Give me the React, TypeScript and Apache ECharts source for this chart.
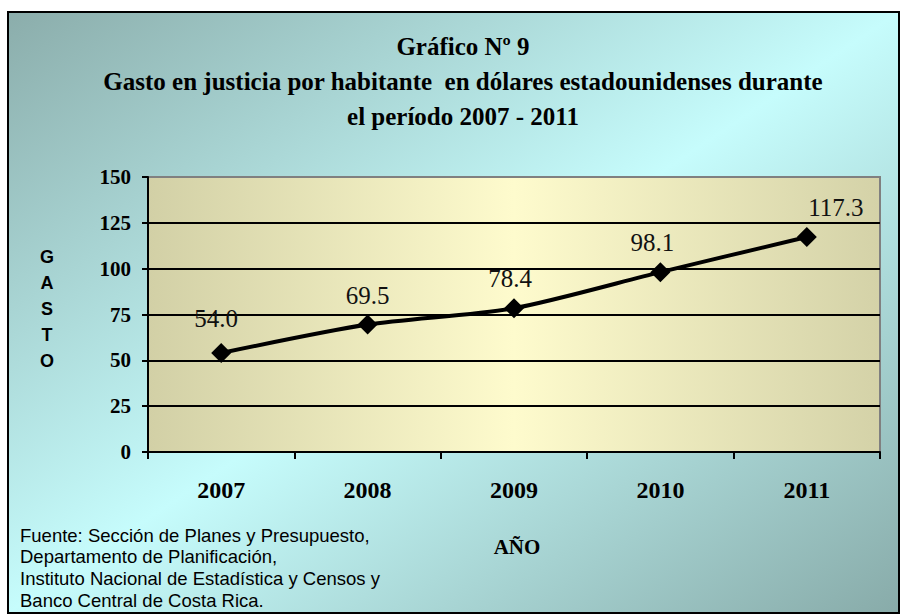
import React, { useEffect, useRef } from "react";
import * as echarts from "echarts";

const categories = ["2007", "2008", "2009", "2010", "2011"];
const gastoValues = [54.0, 69.5, 78.4, 98.1, 117.3];
const labelOffsets = [[-5, -5], [0, 0], [-4, 0], [-8, 0], [29, 0]];
const titleLines = [
  "Gráfico Nº 9",
  "Gasto en justicia por habitante  en dólares estadounidenses durante",
  "el período 2007 - 2011",
];
const sourceLines = [
  "Fuente: Sección de Planes y Presupuesto,",
  "Departamento de Planificación,",
  "Instituto Nacional de Estadística y Censos y",
  "Banco Central de Costa Rica.",
];
const yAxisTitle = ["G", "A", "S", "T", "O"];
const xAxisTitle = "AÑO";

const SERIF = "Liberation Serif";
const SANS = "Liberation Sans";

export default function App() {
  const ref = useRef<HTMLDivElement>(null);
  useEffect(() => {
    if (!ref.current) return;
    const chart = echarts.init(ref.current, undefined, { renderer: "svg" });
    const txt = (x: number, y: number, text: string, family: string, size: number, weight: string, align: string) => ({
      type: "text",
      x,
      y,
      silent: true,
      style: {
        text,
        fontFamily: family,
        fontSize: size,
        fontWeight: weight,
        fill: "#000",
        align,
        verticalAlign: "middle",
      },
    });
    const graphics: any[] = [
      {
        type: "rect",
        z: -10,
        silent: true,
        shape: { x: 8, y: 12, width: 891, height: 601 },
        style: {
          fill: new echarts.graphic.LinearGradient(0, 0, 1, 1, [
            { offset: 0, color: "#8badab" },
            { offset: 0.5, color: "#c6fcfc" },
            { offset: 1, color: "#88aba9" },
          ]),
          stroke: "#000",
          lineWidth: 2,
        },
      },
    ];
    titleLines.forEach((t, i) => graphics.push(txt(463, 46 + i * 35, t, SERIF, 25, "bold", "center")));
    yAxisTitle.forEach((t, i) => graphics.push(txt(47, 257 + i * 26, t, SANS, 18, "bold", "center")));
    graphics.push(txt(517, 547, xAxisTitle, SERIF, 21, "bold", "center"));
    sourceLines.forEach((t, i) => graphics.push(txt(20, 535 + i * 21.7, t, SANS, 18.5, "normal", "left")));

    chart.setOption({
      animation: false,
      graphic: graphics,
      grid: {
        left: 148,
        top: 177,
        right: 20,
        bottom: 162,
        show: true,
        backgroundColor: {
          type: "linear",
          x: 0,
          y: 0,
          x2: 1,
          y2: 0,
          colorStops: [
            { offset: 0, color: "#d2d0a6" },
            { offset: 0.5, color: "#fefbcd" },
            { offset: 1, color: "#d4d2a8" },
          ],
        },
        borderColor: "#808080",
        borderWidth: 2,
      },
      xAxis: {
        type: "category",
        data: categories,
        boundaryGap: true,
        axisLine: { lineStyle: { color: "#000", width: 2 } },
        axisTick: { show: true, length: 7, lineStyle: { color: "#000", width: 2 } },
        axisLabel: {
          color: "#000",
          fontFamily: SERIF,
          fontWeight: "bold",
          fontSize: 24,
          margin: 26,
        },
        splitLine: { show: false },
      },
      yAxis: {
        type: "value",
        min: 0,
        max: 150,
        interval: 25,
        axisLine: { show: true, lineStyle: { color: "#000", width: 2 } },
        axisTick: { show: true, length: 6, lineStyle: { color: "#000", width: 2 } },
        axisLabel: {
          color: "#000",
          fontFamily: SERIF,
          fontWeight: "bold",
          fontSize: 21,
          margin: 17,
        },
        splitLine: {
          show: true,
          lineStyle: {
            color: ["#000", "#000", "#000", "#000", "#000", "#000", "#808080"],
            width: 2,
          },
        },
      },
      series: [
        {
          type: "line",
          data: gastoValues.map((v, i) => ({
            value: v,
            label: { offset: labelOffsets[i] },
          })),
          smooth: 0.25,
          symbol: "diamond",
          symbolSize: 20,
          itemStyle: { color: "#000" },
          lineStyle: { color: "#000", width: 4 },
          label: {
            show: true,
            position: "top",
            distance: 7,
            formatter: (p: any) => Number(p.value).toFixed(1),
            color: "#111",
            fontFamily: SERIF,
            fontSize: 25,
          },
        },
      ],
    });
    return () => chart.dispose();
  }, []);
  return (
    <div
      ref={ref}
      style={{ position: "absolute", left: 0, top: 0, width: 900, height: 614 }}
    />
  );
}
